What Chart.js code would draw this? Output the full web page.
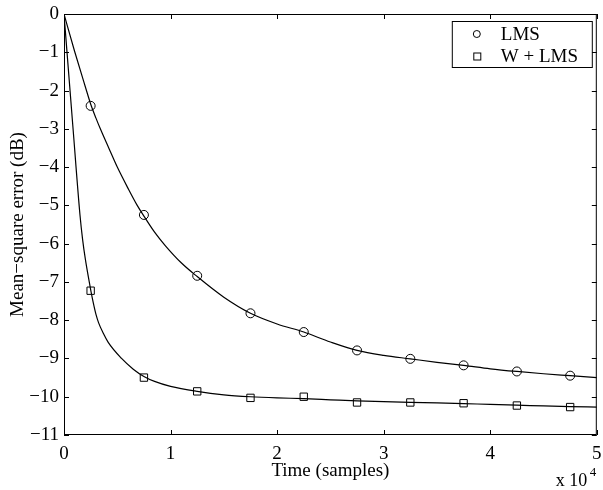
<!DOCTYPE html>
<html>
<head>
<meta charset="utf-8">
<script src="https://cdn.jsdelivr.net/npm/chart.js@4.4.0/dist/chart.umd.min.js"></script>
<style>
  html, body { margin: 0; padding: 0; background: #fff; }
</style>
</head>
<body>
<canvas id="myChart" width="603" height="490"></canvas>
<script>
// values (time in samples, MSE in dB)
const lmsTime = [0, 1000, 2000, 2500, 3000, 3440, 4200, 5000, 6000, 6870, 7500, 8500, 9500, 11000, 12500, 15000, 17500, 20000, 22500, 25000, 27500, 30000, 32500, 35000, 37500, 40000, 42500, 45000, 47500, 50000];
const lmsMse = [0, -0.98, -1.9, -2.35, -2.72, -3.02, -3.5, -4.0, -4.55, -5.0, -5.28, -5.7, -6.05, -6.5, -6.86, -7.4, -7.82, -8.1, -8.31, -8.57, -8.79, -8.92, -9.01, -9.1, -9.18, -9.27, -9.34, -9.4, -9.45, -9.5];

const wlmsTime = [0, 850, 1500, 1750, 2000, 2370, 2500, 2750, 3000, 3250, 3700, 4150, 5400, 6500, 7500, 8500, 10000, 12500, 15000, 17500, 20000, 22500, 25000, 27500, 30000, 32500, 35000, 37500, 40000, 42500, 45000, 47500, 50000];
const wlmsMse = [0, -3, -5.25, -5.9, -6.4, -7.0, -7.2, -7.55, -7.85, -8.07, -8.35, -8.58, -9, -9.28, -9.47, -9.6, -9.73, -9.86, -9.95, -10.0, -10.03, -10.05, -10.08, -10.11, -10.13, -10.15, -10.16, -10.18, -10.2, -10.22, -10.24, -10.26, -10.27];

const markerTime = [2500, 7500, 12500, 17500, 22500, 27500, 32500, 37500, 42500, 47500];
const lmsMarkers = [-2.4, -5.25, -6.84, -7.82, -8.31, -8.79, -9.01, -9.18, -9.34, -9.45];
const wlmsMarkers = [-7.23, -9.5, -9.86, -10.03, -10.0, -10.15, -10.15, -10.17, -10.23, -10.27];

const seriesNames = ["LMS", "W + LMS"];
const xTicks = [0, 10000, 20000, 30000, 40000, 50000];
const yTicks = [0, -1, -2, -3, -4, -5, -6, -7, -8, -9, -10, -11];

const serif = "'Liberation Serif', 'Times New Roman', serif";

function toPoints(xs, ys) {
  return xs.map((x, i) => ({ x: x, y: ys[i] }));
}

function minus(v) {
  return String(v).replace("-", "\u2212");
}

// box, inward ticks, legend and the exponent note
const framePlugin = {
  id: "frame",
  afterDraw(chart) {
    const ctx = chart.ctx;
    const a = chart.chartArea;
    const xs = chart.scales.x;
    const ys = chart.scales.y;
    const tl = 5;
    ctx.save();
    ctx.strokeStyle = "#000";
    ctx.lineWidth = 1;
    ctx.strokeRect(a.left + 0.5, a.top + 0.5, a.right - a.left - 1, a.bottom - a.top - 1);
    ctx.beginPath();
    xTicks.forEach((t) => {
      const px = Math.round(xs.getPixelForValue(t)) + 0.5;
      ctx.moveTo(px, a.bottom);
      ctx.lineTo(px, a.bottom - tl);
      ctx.moveTo(px, a.top);
      ctx.lineTo(px, a.top + tl);
    });
    yTicks.forEach((t) => {
      const py = Math.round(ys.getPixelForValue(t)) + 0.5;
      ctx.moveTo(a.left, py);
      ctx.lineTo(a.left + tl, py);
      ctx.moveTo(a.right, py);
      ctx.lineTo(a.right - tl, py);
    });
    ctx.stroke();

    // legend
    const bx = a.right - 145, by = a.top + 7, bw = 140, bh = 46;
    ctx.fillStyle = "#fff";
    ctx.fillRect(bx, by, bw, bh);
    ctx.strokeRect(bx + 0.5, by + 0.5, bw, bh);
    ctx.fillStyle = "#000";
    ctx.font = "19px " + serif;
    ctx.textBaseline = "middle";
    ctx.textAlign = "left";
    ctx.beginPath();
    ctx.arc(bx + 25, by + 13, 3.5, 0, Math.PI * 2);
    ctx.stroke();
    ctx.strokeRect(bx + 22, by + 32, 7, 7);
    ctx.fillText(seriesNames[0], bx + 49, by + 14);
    ctx.fillText(seriesNames[1], bx + 49, by + 36);

    // x 10^4
    ctx.textBaseline = "alphabetic";
    ctx.font = "18px " + serif;
    ctx.fillText("x 10", a.right - 41, chart.height - 4);
    ctx.font = "13px " + serif;
    ctx.fillText("4", a.right - 7, chart.height - 14);
    ctx.restore();
  }
};

const ctx = document.getElementById("myChart");

new Chart(ctx, {
  type: "line",
  data: {
    datasets: [
      {
        label: seriesNames[0] + " curve",
        data: toPoints(lmsTime, lmsMse),
        borderColor: "#000",
        borderWidth: 1.2,
        pointRadius: 0,
        cubicInterpolationMode: "monotone",
      },
      {
        label: seriesNames[1] + " curve",
        data: toPoints(wlmsTime, wlmsMse),
        borderColor: "#000",
        borderWidth: 1.2,
        pointRadius: 0,
        cubicInterpolationMode: "monotone",
      },
      {
        label: seriesNames[0],
        data: toPoints(markerTime, lmsMarkers),
        showLine: false,
        pointStyle: "circle",
        pointRadius: 4.5,
        borderColor: "#000",
        borderWidth: 1,
        backgroundColor: "rgba(0,0,0,0)",
      },
      {
        label: seriesNames[1],
        data: toPoints(markerTime, wlmsMarkers),
        showLine: false,
        pointStyle: "rect",
        pointRadius: 5.2,
        borderColor: "#000",
        borderWidth: 1,
        backgroundColor: "rgba(0,0,0,0)",
      },
    ],
  },
  options: {
    responsive: false,
    animation: false,
    devicePixelRatio: 1,
    layout: { padding: { top: 14, right: 6, left: 0, bottom: 0 } },
    plugins: {
      legend: { display: false },
      tooltip: { enabled: false },
    },
    scales: {
      x: {
        type: "linear",
        min: 0,
        max: 50000,
        grid: { display: false, drawTicks: false },
        border: { display: false },
        afterFit: (s) => { s.height = 55; s.paddingLeft = 0; s.paddingRight = 0; },
        ticks: {
          stepSize: 10000,
          autoSkip: false,
          maxRotation: 0,
          padding: 8,
          color: "#000",
          font: { family: serif, size: 19 },
          callback: (v) => minus(v / 10000),
        },
        title: {
          display: true,
          text: "Time (samples)",
          color: "#000",
          font: { family: serif, size: 19 },
          padding: { top: 0, bottom: 8 },
        },
      },
      y: {
        type: "linear",
        min: -11,
        max: 0,
        grid: { display: false, drawTicks: false },
        border: { display: false },
        afterFit: (s) => { s.width = 64; s.paddingTop = 0; s.paddingBottom = 0; },
        ticks: {
          stepSize: 1,
          autoSkip: false,
          padding: 5,
          color: "#000",
          font: { family: serif, size: 19 },
          callback: (v) => minus(v),
        },
        title: {
          display: true,
          text: "Mean\u2212square error (dB)",
          color: "#000",
          font: { family: serif, size: 19 },
          padding: { top: 7, bottom: 0 },
        },
      },
    },
  },
  plugins: [framePlugin],
});
</script>
</body>
</html>
